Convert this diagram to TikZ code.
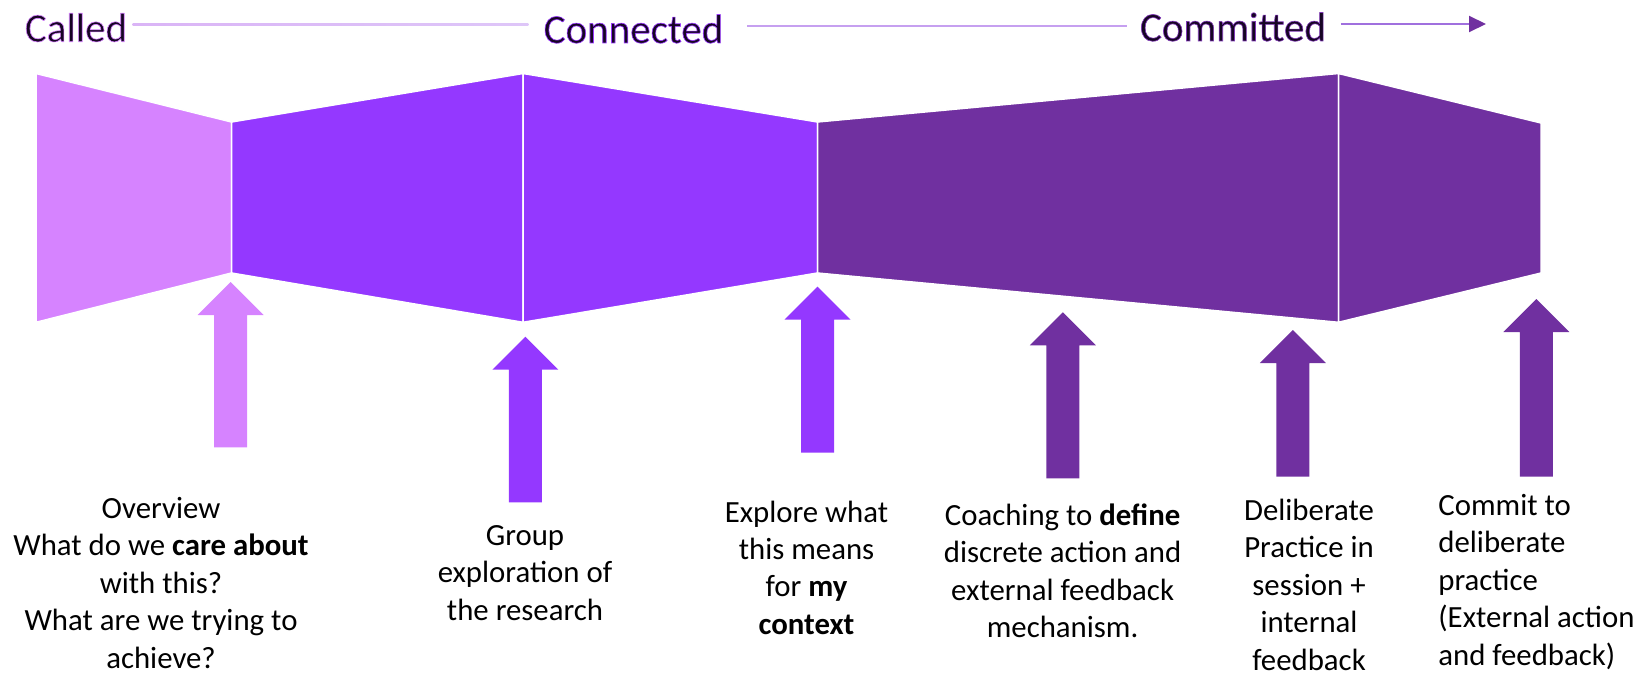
\documentclass[tikz,border=0pt]{standalone}
\usepackage{fontspec}
\setmainfont{Carlito}
\newfontfamily\titlefont[FakeBold=1.5]{Carlito}
\usetikzlibrary{arrows.meta,calc}
\definecolor{cA}{RGB}{214,131,255}
\definecolor{cB}{RGB}{148,56,255}
\definecolor{cC}{RGB}{112,48,160}
\definecolor{lnA}{RGB}{218,180,246}
\definecolor{lnAm}{RGB}{244,236,252}
\definecolor{lnAr}{RGB}{222,198,248}
\definecolor{lnB}{RGB}{198,160,240}
\definecolor{lnC}{RGB}{160,112,222}
\newcommand\firststrut{\rule{0pt}{12.5pt}}
\newcommand\glowtxt[2]{\special{pdf:bcolor [0.09 0.02 0.14] [#1]}#2\special{pdf:ecolor}}
\newcommand\blockarrow[4]{%
  \fill[#4] (#1,#2) -- ({#1+33},{#2+33}) -- ({#1+16.5},{#2+33}) -- ({#1+16.5},#3)
    -- ({#1-16.5},#3) -- ({#1-16.5},{#2+33}) -- ({#1-33},{#2+33}) -- cycle;}
\tikzset{
  band/.style={draw=white, line width=0.75pt},
  lbl/.style={font=\fontsize{15.4}{18.7}\selectfont, align=center, inner sep=0pt, anchor=north, text=black},
  title/.style={font=\titlefont\fontsize{20.5}{24}\selectfont, inner sep=0pt, anchor=base, text height=17pt, text depth=0pt},
  hlineB/.style={draw=lnB, line width=1pt},
  hlineC/.style={draw=lnC, line width=1pt},
}
\begin{document}
\begin{tikzpicture}[x=0.5pt,y=-0.5pt]
\useasboundingbox (0,0) rectangle (1640,674);
% bands
\fill[cA, band] (36,73.5) -- (231.5,122) -- (231.5,273) -- (36,322.3) -- cycle;
\fill[cB, band] (231.5,122) -- (523,73.5) -- (523,322.3) -- (231.5,273) -- cycle;
\fill[cB, band] (523,73.5) -- (817.5,122) -- (817.5,273) -- (523,322.3) -- cycle;
\fill[cC, band] (817.5,122) -- (1338.5,73.5) -- (1338.5,322.3) -- (817.5,273) -- cycle;
\fill[cC, band] (1338.5,73.5) -- (1541,123) -- (1541,273) -- (1338.5,322.3) -- cycle;
% block arrows
\blockarrow{230.7}{282}{447.3}{cA}
\blockarrow{525.3}{336.7}{502.3}{cB}
\blockarrow{817.5}{286.7}{452.7}{cB}
\blockarrow{1062.8}{312.3}{478.3}{cC}
\blockarrow{1292.8}{330}{476.7}{cC}
\blockarrow{1536.3}{299}{476.7}{cC}
% titles
\node[title] (called) at (76,41.7) {\glowtxt{0.84 0.5 1}{Called}};
\node[title] (connected) at (633.5,43) {\glowtxt{0.6 0.22 1}{Connected}};
\node[title] (committed) at (1233,41) {\glowtxt{0.5 0.22 0.72}{Committed}};
\coordinate (hend) at (1486,26);
\shade[left color=lnA, middle color=lnAm, right color=lnAr]
  ($(called.east)+(5,-1)$) rectangle ($(called.east -| connected.west)+(-15,1)$);
\draw[hlineB] ($(connected.east)+(23.5,0)$) -- ($(connected.east -| committed.west)+(-13,0)$);
\draw[hlineC, -{Triangle[length=8.5pt,width=8pt,color=cC]}]
  ($(committed.east)+(14.6,0)$) -- (committed.east -| hend);
% labels
\node[lbl] (t1) at (161,493) {\firststrut Overview\\What do we \textbf{care about}\\with this?\\What are we trying to\\achieve?};
\node[lbl] (t2) at (525,520) {\firststrut Group\\exploration of\\the research};
\node[lbl] (t3) at (806.5,496.7) {\firststrut Explore what\\this means\\for \textbf{my}\\\textbf{context}};
\node[lbl] (t4) at (1062.6,500) {\firststrut Coaching to \textbf{define}\\discrete action and\\external feedback\\mechanism.};
\node[lbl] (t5) at (1309,495) {\firststrut Deliberate\\Practice in\\session +\\internal\\feedback};
\node[lbl, anchor=north west, align=left] (t6) at (1438,490) {\firststrut Commit to\\deliberate\\practice\\(External action\\and feedback)};
\end{tikzpicture}
\end{document}
